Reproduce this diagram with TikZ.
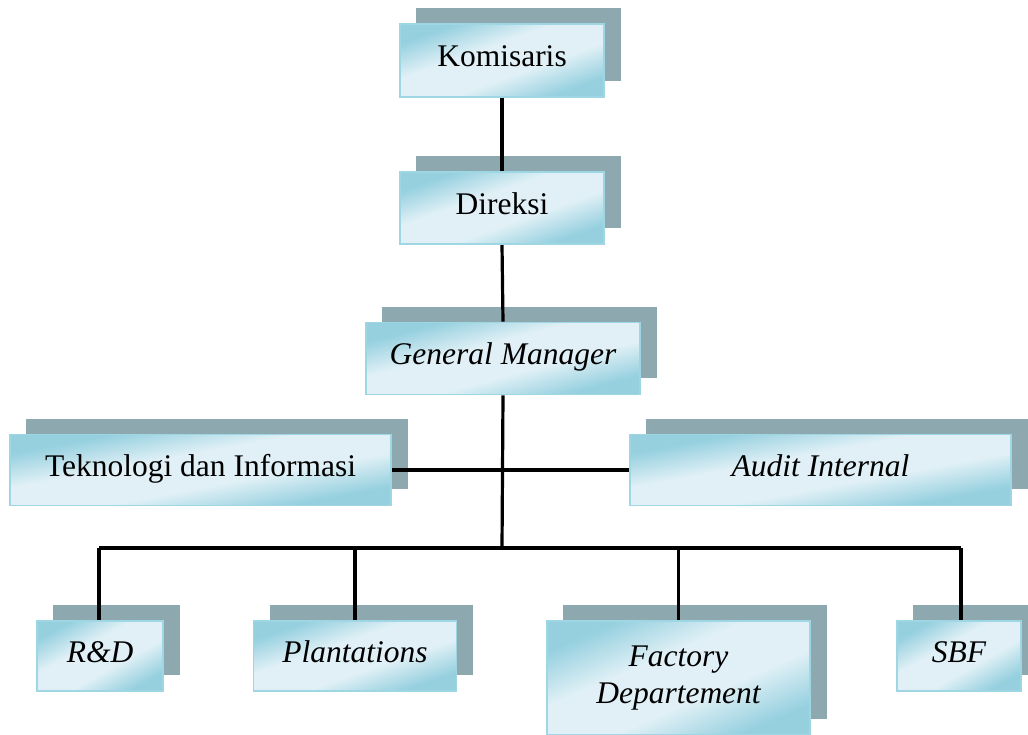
\documentclass[tikz,border=0pt]{standalone}
\usepackage{fontspec}
\setmainfont{Liberation Serif}
\usetikzlibrary{calc}
\definecolor{shadowc}{RGB}{142,168,176}
\definecolor{blight}{RGB}{224,240,246}
\definecolor{bdark}{RGB}{150,208,223}
\definecolor{bord}{RGB}{158,214,228}
\pgfdeclarehorizontalshading{ripple}{100bp}{color(0bp)=(bdark); color(24bp)=(bdark); color(41bp)=(blight); color(59bp)=(blight); color(76bp)=(bdark); color(100bp)=(bdark)}
\pgfdeclarelayer{shadowlayer}
\pgfdeclarelayer{linelayer}
\pgfdeclarelayer{filllayer}
\pgfsetlayers{shadowlayer,linelayer,filllayer,main}
\tikzset{
  orgbox/.style={draw=bord, line width=1.6pt,
    inner sep=0pt, align=center, text=black,
    font=\fontsize{31.5}{37}\selectfont},
  onel/.style={text height=21pt, text depth=9pt},
  conn/.style={line width=3.2pt, black},
  shadowbox/.style={fill=shadowc},
  ripplefill/.style={shading=ripple, shading angle=-45}
}
\newcommand{\boxdeco}[3]{%
  \begin{pgfonlayer}{shadowlayer}
    \fill[shadowbox] ($(#1.north west)+(17,-15)$) rectangle ($(#1.south east)+(16,-17)$);
  \end{pgfonlayer}
  \begin{pgfonlayer}{filllayer}
    \begin{scope}[transform canvas={shift={(#1.center)}, xscale=#2/100, yscale=#3/100}]
      \shade[ripplefill] (-50,-50) rectangle (50,50);
    \end{scope}
  \end{pgfonlayer}}
\begin{document}
\begin{tikzpicture}[x=1pt,y=-1pt]
\useasboundingbox (0,0) rectangle (1028,734);

\node[orgbox,onel,minimum width=204pt,minimum height=73pt] (kom) at (502,60.5) {Komisaris};
\node[orgbox,onel,minimum width=204pt,minimum height=72pt] (dir) at (502,208) {Direksi};
\node[orgbox,onel,minimum width=274pt,minimum height=72pt] (gm) at (503,358.5) {\itshape General Manager};
\node[orgbox,onel,minimum width=381pt,minimum height=71pt] (tek) at (200.5,470) {Teknologi dan Informasi};
\node[orgbox,onel,minimum width=381pt,minimum height=71pt] (aud) at (820.5,470) {\itshape Audit Internal};
\node[orgbox,onel,minimum width=126pt,minimum height=70pt] (rd) at (100,656) {\itshape R\&D};
\node[orgbox,onel,minimum width=203pt,minimum height=70pt] (pl) at (355,656) {\itshape Plantations};
\node[orgbox,minimum width=263pt,minimum height=114pt] (fac) at (678.5,678) {\raisebox{3pt}{\itshape\begin{tabular}{@{}c@{}}Factory\\Departement\end{tabular}}};
\node[orgbox,onel,minimum width=124pt,minimum height=70pt] (sbf) at (959,656) {\itshape SBF};

\boxdeco{kom}{204}{73}
\boxdeco{dir}{204}{72}
\boxdeco{gm}{274}{72}
\boxdeco{tek}{381}{71}
\boxdeco{aud}{381}{71}
\boxdeco{rd}{126}{70}
\boxdeco{pl}{203}{70}
\boxdeco{fac}{263}{114}
\boxdeco{sbf}{124}{70}

\coordinate (bus) at (502,548);
\coordinate (busl) at (99,548);
\coordinate (busr) at (961,548);

\begin{pgfonlayer}{linelayer}
  \draw[conn] (kom.south) -- (dir.north);
  \draw[conn] (dir.south) -- (gm.north);
  \draw[conn] (gm.south) -- (bus);
  \draw[conn] (tek.east) -- (aud.west);
  \draw[conn] (busl) -- (busr);
  \draw[conn] (busl) -- (busl |- rd.north);
  \draw[conn] (pl.north |- bus) -- (pl.north);
  \draw[conn] (fac.north |- bus) -- (fac.north);
  \draw[conn] (busr) -- (busr |- sbf.north);
\end{pgfonlayer}
\end{tikzpicture}
\end{document}
